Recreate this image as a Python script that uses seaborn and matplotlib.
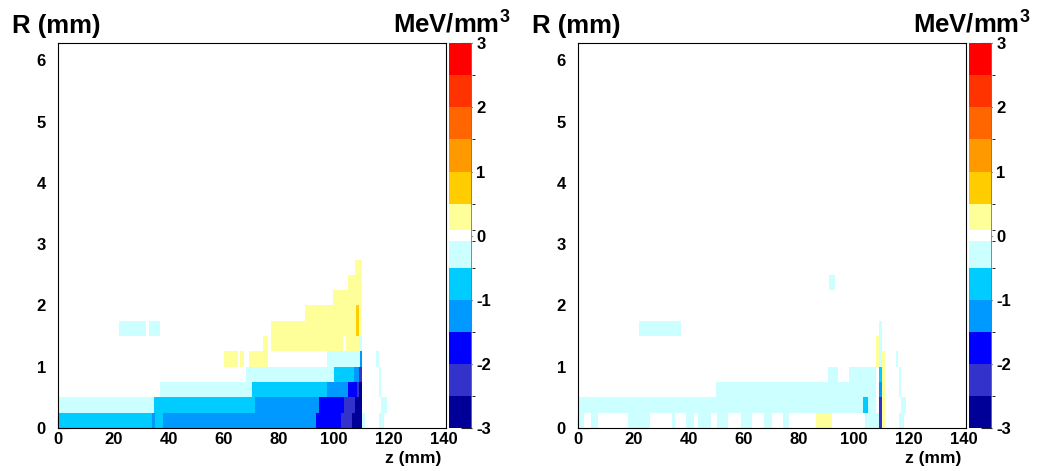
import numpy as np
import pandas as pd
import matplotlib
matplotlib.use("Agg")
import matplotlib.pyplot as plt
from matplotlib.colors import ListedColormap, BoundaryNorm
import seaborn as sns

sns.set_style("white")
plt.rcParams["font.family"] = ["Liberation Sans", "DejaVu Sans"]
plt.rcParams["font.weight"] = "bold"
plt.rcParams["text.color"] = "black"
plt.rcParams["xtick.color"] = "black"
plt.rcParams["ytick.color"] = "black"
plt.rcParams["axes.labelcolor"] = "black"
plt.rcParams["axes.unicode_minus"] = False
plt.rcParams["mathtext.fontset"] = "custom"
plt.rcParams["mathtext.rm"] = "Liberation Sans:bold"
plt.rcParams["mathtext.bf"] = "Liberation Sans:bold"
plt.rcParams["mathtext.it"] = "Liberation Sans:bold"

# ---- histogram binning -------------------------------------------------
Z_MAX = 140.6          # mm, axis range
R_MAX = 6.28           # mm, axis range
Z_STEP = 0.1
R_STEP = 0.25

# ---- colour levels (MeV/mm^3) -----------------------------------------
level_edges = [-3, -2.5, -2, -1.5, -1, -0.5, -0.09, 0.09, 0.5, 1, 1.5, 2, 2.5, 3]
level_colors = ["#000099", "#3333cc", "#0000ff", "#0099ff", "#00ccff", "#ccffff",
                "#ffffff",
                "#ffff99", "#ffcc00", "#ff9900", "#ff6600", "#ff3300", "#ff0000"]
cbar_ticks = [-3, -2, -1, 0, 1, 2, 3]
z_ticks = [0, 20, 40, 60, 80, 100, 120, 140]
r_ticks = [0, 1, 2, 3, 4, 5, 6]

# ---- energy density deposits: (R bin, z from, z to, value) -------------
deposit_left = [
    (0, 0.0, 34.0, -0.75), (0, 34.0, 35.0, -1.25), (0, 35.0, 38.2, -0.75),
    (0, 38.2, 93.4, -1.25), (0, 93.4, 102.5, -1.75), (0, 102.5, 106.5, -2.25),
    (0, 106.5, 110.4, -2.75), (0, 110.4, 111.4, -0.25), (0, 116.6, 118.2, -0.25),
    (1, 0.0, 34.9, -0.25), (1, 34.9, 71.5, -0.75), (1, 71.5, 94.5, -1.25),
    (1, 94.5, 103.6, -1.75), (1, 103.6, 107.6, -2.25), (1, 107.6, 110.4, -2.75),
    (1, 117.2, 119.3, -0.25),
    (2, 37.1, 70.3, -0.25), (2, 70.3, 97.4, -0.75), (2, 97.4, 105.3, -1.25),
    (2, 105.3, 108.3, -1.75), (2, 108.3, 109.3, -2.25), (2, 109.3, 110.4, -2.75),
    (2, 116.3, 117.2, -0.25),
    (3, 68.2, 100.2, -0.25), (3, 100.2, 107.5, -0.75), (3, 107.5, 109.2, -1.25),
    (3, 109.2, 110.4, -2.25), (3, 116.3, 117.2, -0.25),
    (4, 60.3, 65.1, 0.25), (4, 66.1, 67.6, 0.25), (4, 69.2, 76.1, 0.25),
    (4, 97.4, 109.4, -0.25), (4, 109.4, 110.4, -1.25), (4, 115.4, 116.4, -0.25),
    (5, 74.3, 76.1, 0.25), (5, 77.3, 103.5, 0.25), (5, 104.3, 109.3, 0.25),
    (5, 109.3, 110.4, -0.25),
    (6, 22.2, 31.9, -0.25), (6, 33.1, 37.1, -0.25), (6, 77.3, 108.1, 0.25),
    (6, 108.1, 109.1, 0.75), (6, 109.1, 110.4, 0.25),
    (7, 89.5, 108.1, 0.25), (7, 108.1, 109.1, 0.75), (7, 109.1, 110.4, 0.25),
    (8, 99.6, 110.4, 0.25),
    (9, 105.3, 110.4, 0.25),
    (10, 107.7, 110.4, 0.25),
]

deposit_right = [
    (0, 0.0, 2.1, -0.25), (0, 4.5, 7.3, -0.25), (0, 18.2, 26.1, -0.25),
    (0, 33.9, 35.2, -0.25), (0, 39.2, 42.1, -0.25), (0, 43.3, 48.2, -0.25),
    (0, 50.3, 54.2, -0.25), (0, 59.0, 63.0, -0.25), (0, 67.3, 70.5, -0.25),
    (0, 74.5, 76.4, -0.25), (0, 86.4, 92.1, 0.25), (0, 104.2, 109.3, -0.25),
    (0, 109.3, 110.3, -2.25), (0, 110.3, 111.5, 0.25), (0, 116.4, 118.2, -0.25),
    (1, 0.0, 103.3, -0.25), (1, 103.3, 105.2, -0.75), (1, 105.2, 108.2, -0.25),
    (1, 109.3, 110.3, -2.25), (1, 110.3, 111.5, 0.25), (1, 117.3, 119.0, -0.25),
    (2, 50.1, 108.2, -0.25), (2, 109.3, 110.3, -1.25), (2, 110.3, 111.5, 0.25),
    (2, 116.4, 117.3, -0.25),
    (3, 90.5, 94.3, -0.25), (3, 98.4, 108.2, -0.25), (3, 109.3, 110.3, -0.75),
    (3, 110.3, 111.5, 0.25), (3, 116.4, 117.3, -0.25),
    (4, 108.2, 109.3, 0.25), (4, 109.3, 110.3, -0.25), (4, 110.3, 111.5, 0.25),
    (4, 115.2, 116.1, -0.25),
    (5, 108.2, 109.3, 0.25), (5, 109.3, 110.3, -0.25),
    (6, 22.1, 37.3, -0.25), (6, 109.3, 110.3, -0.25),
    (9, 91.2, 93.3, -0.25),
]


def build_grid(segments):
    nz = int(round(141.0 / Z_STEP))
    nr = int(round(6.5 / R_STEP))
    z_centers = (np.arange(nz) + 0.5) * Z_STEP
    r_centers = (np.arange(nr) + 0.5) * R_STEP
    grid = np.zeros((nr, nz))
    for ir, z0, z1, val in segments:
        grid[ir, (z_centers >= z0) & (z_centers < z1)] = val
    return pd.DataFrame(grid, index=np.round(r_centers, 3),
                        columns=np.round(z_centers, 2))


cmap = ListedColormap(level_colors)
norm = BoundaryNorm(level_edges, cmap.N)

W, H = 1037, 471
fig = plt.figure(figsize=(W / 100, H / 100), dpi=100)


def px_box(x0, x1, ytop, ybot):
    return [x0 / W, 1 - ybot / H, (x1 - x0) / W, (ybot - ytop) / H]


panels = [
    (deposit_left, 0),
    (deposit_right, 520),
]

px = 0.72  # points per pixel at 100 dpi
tick_size = 12

for data, dx in panels:
    ax = fig.add_axes(px_box(58.3 + dx, 445.5 + dx, 43.3, 428))
    cax = fig.add_axes(px_box(449 + dx, 472 + dx, 43.3, 428))
    df = build_grid(data)
    sns.heatmap(df, ax=ax, cmap=cmap, norm=norm, cbar_ax=cax,
                xticklabels=False, yticklabels=False,
                cbar_kws={"spacing": "proportional", "ticks": cbar_ticks})

    ax.set_xlim(0, Z_MAX / Z_STEP)
    ax.set_ylim(0, R_MAX / R_STEP)
    ax.set_xticks([z / Z_STEP for z in z_ticks], [str(z) for z in z_ticks])
    ax.set_yticks([r / R_STEP for r in r_ticks], [str(r) for r in r_ticks])
    ax.set_xticks([z / Z_STEP for z in np.arange(0, 141, 5)], minor=True)
    ax.set_yticks([r / R_STEP for r in np.arange(0, 6.3, 0.2)], minor=True)
    ax.set_xlabel("")
    ax.set_ylabel("")
    for side in ["left", "bottom", "top", "right"]:
        ax.spines[side].set_visible(True)
        ax.spines[side].set_color("black")
        ax.spines[side].set_linewidth(0.8)
    ax.tick_params(which="both", direction="in", left=True, bottom=True,
                   top=False, right=False, color="black", labelcolor="black",
                   width=0.8, labelsize=tick_size)
    ax.tick_params(which="major", length=11 * px)
    ax.tick_params(which="minor", length=5.5 * px)
    ax.tick_params(axis="x", which="major", pad=3)
    ax.tick_params(axis="y", which="major", pad=9)

    cax.tick_params(direction="in", length=11 * px, width=0.8, color="#222222",
                    labelcolor="black", right=True, left=False,
                    labelsize=tick_size, pad=3)
    cax.set_yticks(cbar_ticks, [str(t) for t in cbar_ticks])
    cax.axvline(1, color="#777777", lw=1.2)

    fig.text((12 + dx) / W, 1 - 33.3 / H, "R (mm)", fontsize=18.5,
             fontweight="bold", va="baseline", ha="left", color="black")
    fig.text((510 + dx) / W, 1 - 33.3 / H, r"MeV/mm$^{3}$", fontsize=18.5,
             fontweight="bold", va="baseline", ha="right", color="black")
    fig.text((441 + dx) / W, 1 - 463 / H, "z (mm)", fontsize=12.5,
             fontweight="bold", va="baseline", ha="right", color="black")

fig.savefig("out.png", dpi=100)
